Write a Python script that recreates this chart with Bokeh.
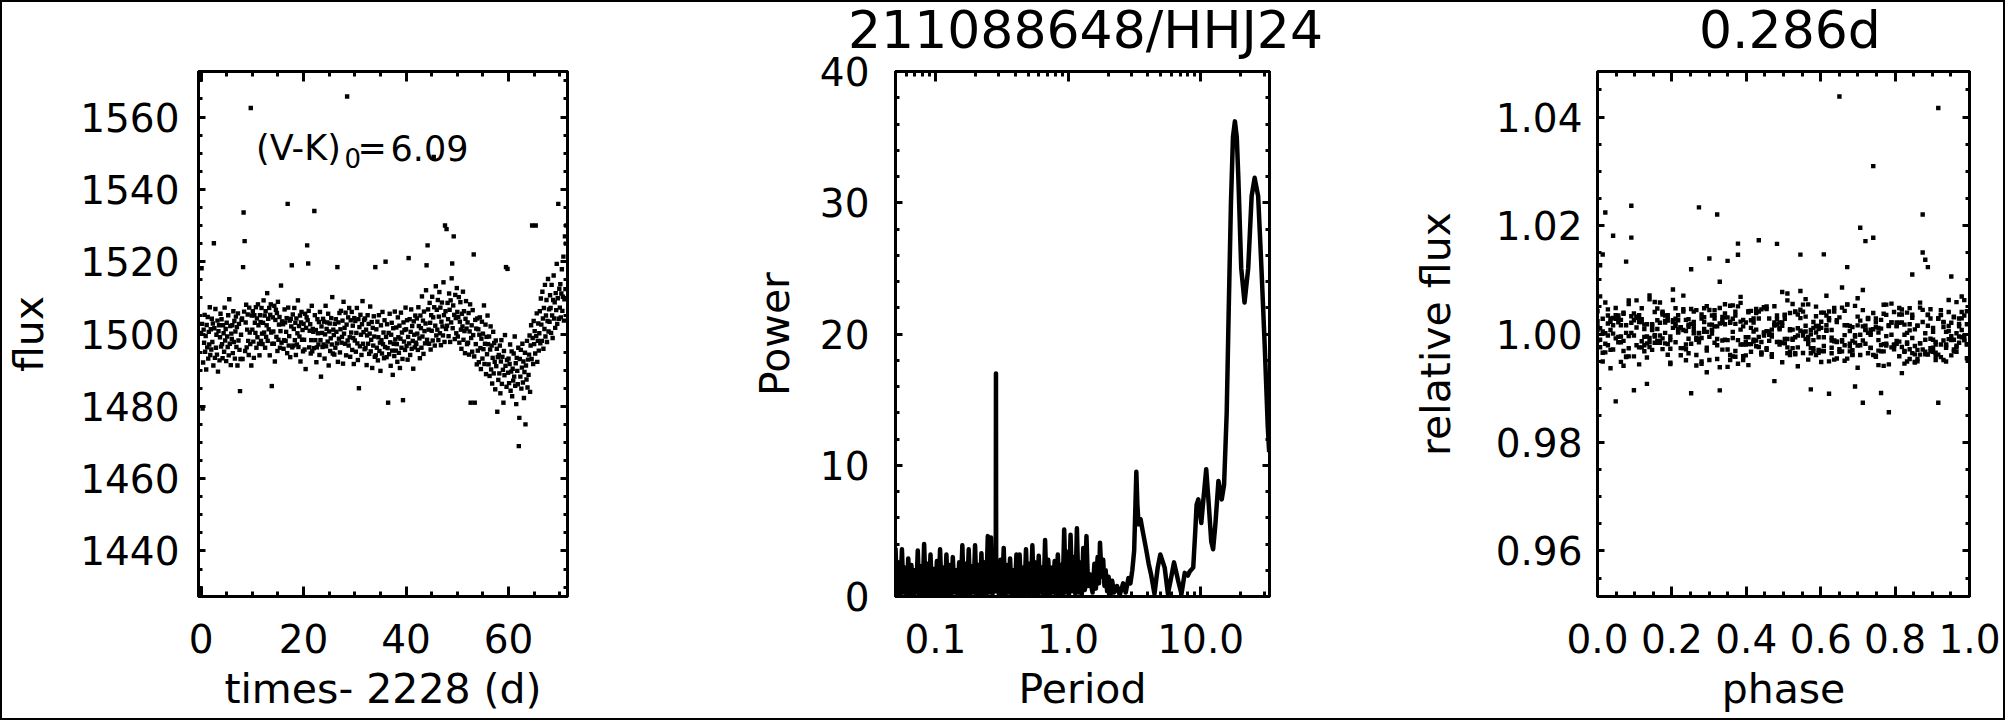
import numpy as np
from bokeh.plotting import figure
from bokeh.layouts import row, column
from bokeh.models import (Range1d, LinearAxis, LogAxis, SingleIntervalTicker, FixedTicker,
                          PrintfTickFormatter, CustomJSTickFormatter, Label, Div)
from bokeh.embed import file_html
from bokeh.resources import INLINE

FONT = "DejaVu Sans"

# ---------------- data: light curve (time - 2228 d, flux) ----------------
times = [
0.0,0.1,0.2,0.3,0.4,0.5,0.6,0.7,0.8,0.9,1.0,1.1,1.2,1.3,1.4,1.5,1.6,1.7,1.8,1.9,
2.0,2.1,2.2,2.3,2.4,2.5,2.6,2.7,2.8,2.9,3.0,3.1,3.2,3.3,3.4,3.5,3.6,3.7,3.8,3.9,
4.0,4.1,4.2,4.3,4.4,4.5,4.6,4.7,4.8,4.9,5.0,5.1,5.2,5.3,5.4,5.5,5.6,5.7,5.8,5.9,
6.0,6.1,6.2,6.3,6.4,6.5,6.6,6.7,6.8,6.9,7.0,7.1,7.2,7.3,7.4,7.5,7.6,7.7,7.8,7.9,
8.0,8.1,8.2,8.3,8.4,8.5,8.6,8.7,8.8,8.9,9.0,9.1,9.2,9.3,9.4,9.5,9.6,9.7,9.8,9.9,
10.0,10.1,10.2,10.3,10.4,10.5,10.6,10.7,10.8,10.9,11.0,11.1,11.2,11.3,11.4,11.5,11.6,11.7,11.8,11.9,
12.0,12.1,12.2,12.3,12.4,12.5,12.6,12.7,12.8,12.9,13.0,13.1,13.2,13.3,13.4,13.5,13.6,13.7,13.8,13.9,
14.0,14.1,14.2,14.3,14.4,14.5,14.6,14.7,14.8,14.9,15.0,15.1,15.2,15.3,15.4,15.5,15.6,15.7,15.8,15.9,
16.0,16.1,16.2,16.3,16.4,16.5,16.6,16.7,16.8,16.9,17.0,17.1,17.2,17.3,17.4,17.5,17.6,17.7,17.8,17.9,
18.0,18.1,18.2,18.3,18.4,18.5,18.6,18.7,18.8,18.9,19.0,19.1,19.2,19.3,19.4,19.5,19.6,19.7,19.8,19.9,
20.0,20.1,20.2,20.3,20.4,20.5,20.6,20.7,20.8,20.9,21.0,21.1,21.2,21.3,21.4,21.5,21.6,21.7,21.8,21.9,
22.0,22.1,22.2,22.3,22.4,22.5,22.6,22.7,22.8,22.9,23.0,23.1,23.2,23.3,23.4,23.5,23.6,23.7,23.8,23.9,
24.0,24.1,24.2,24.3,24.4,24.5,24.6,24.7,24.8,24.9,25.0,25.1,25.2,25.3,25.4,25.5,25.6,25.7,25.8,25.9,
26.0,26.1,26.2,26.3,26.4,26.5,26.6,26.7,26.8,26.9,27.0,27.1,27.2,27.3,27.4,27.5,27.6,27.7,27.8,27.9,
28.0,28.1,28.2,28.3,28.4,28.5,28.6,28.7,28.8,28.9,29.0,29.1,29.2,29.3,29.4,29.5,29.6,29.7,29.8,29.9,
30.0,30.1,30.2,30.3,30.4,30.5,30.6,30.7,30.8,30.9,31.0,31.1,31.2,31.3,31.4,31.5,31.6,31.7,31.8,31.9,
32.0,32.1,32.2,32.3,32.4,32.5,32.6,32.7,32.8,32.9,33.0,33.1,33.2,33.3,33.4,33.5,33.6,33.7,33.8,33.9,
34.0,34.1,34.2,34.3,34.4,34.5,34.6,34.7,34.8,34.9,35.0,35.1,35.2,35.3,35.4,35.5,35.6,35.7,35.8,35.9,
36.0,36.1,36.2,36.3,36.4,36.5,36.6,36.7,36.8,36.9,37.0,37.1,37.2,37.3,37.4,37.5,37.6,37.7,37.8,37.9,
38.0,38.1,38.2,38.3,38.4,38.5,38.6,38.7,38.8,38.9,39.0,39.1,39.2,39.3,39.4,39.5,39.6,39.7,39.8,39.9,
40.0,40.1,40.2,40.3,40.4,40.5,40.6,40.7,40.8,40.9,41.0,41.1,41.2,41.3,41.4,41.5,41.6,41.7,41.8,41.9,
42.0,42.1,42.2,42.3,42.4,42.5,42.6,42.7,42.8,42.9,43.0,43.1,43.2,43.3,43.4,43.5,43.6,43.7,43.8,43.9,
44.0,44.1,44.2,44.3,44.4,44.5,44.6,44.7,44.8,44.9,45.0,45.1,45.2,45.3,45.4,45.5,45.6,45.7,45.8,45.9,
46.0,46.1,46.2,46.3,46.4,46.5,46.6,46.7,46.8,46.9,47.0,47.1,47.2,47.3,47.4,47.5,47.6,47.7,47.8,47.9,
48.0,48.1,48.2,48.3,48.4,48.5,48.6,48.7,48.8,48.9,49.0,49.1,49.2,49.3,49.4,49.5,49.6,49.7,49.8,49.9,
50.0,50.1,50.2,50.3,50.4,50.5,50.6,50.7,50.8,50.9,51.0,51.1,51.2,51.3,51.4,51.5,51.6,51.7,51.8,51.9,
52.0,52.1,52.2,52.3,52.4,52.5,52.6,52.7,52.8,52.9,53.0,53.1,53.2,53.3,53.4,53.5,53.6,53.7,53.8,53.9,
54.0,54.1,54.2,54.3,54.4,54.5,54.6,54.7,54.8,54.9,55.0,55.1,55.2,55.3,55.4,55.5,55.6,55.7,55.8,55.9,
56.0,56.1,56.2,56.3,56.4,56.5,56.6,56.7,56.8,56.9,57.0,57.1,57.2,57.3,57.4,57.5,57.6,57.7,57.8,57.9,
58.0,58.1,58.2,58.3,58.4,58.5,58.6,58.7,58.8,58.9,59.0,59.1,59.2,59.3,59.4,59.5,59.6,59.7,59.8,59.9,
60.0,60.1,60.2,60.3,60.4,60.5,60.6,60.7,60.8,60.9,61.0,61.1,61.2,61.3,61.4,61.5,61.6,61.7,61.8,61.9,
62.0,62.1,62.2,62.3,62.4,62.5,62.6,62.7,62.8,62.9,63.0,63.1,63.2,63.3,63.4,63.5,63.6,63.7,63.8,63.9,
64.0,64.1,64.2,64.3,64.4,64.5,64.6,64.7,64.8,64.9,65.0,65.1,65.2,65.3,65.4,65.5,65.6,65.7,65.8,65.9,
66.0,66.1,66.2,66.3,66.4,66.5,66.6,66.7,66.8,66.9,67.0,67.1,67.2,67.3,67.4,67.5,67.6,67.7,67.8,67.9,
68.0,68.1,68.2,68.3,68.4,68.5,68.6,68.7,68.8,68.9,69.0,69.1,69.2,69.3,69.4,69.5,69.6,69.7,69.8,69.9,
70.0,70.1,70.2,70.3,70.4,70.5,70.6,70.7,70.8,70.9,71.0,71.1,71.2,71.3,
]

flux = [
1500.3,1518.2,1502.8,1479.4,1492.1,1501.2,1497.6,1505.3,1495.1,1499.4,1490.2,1502.5,1496.3,1504.7,1493.2,1500.6,1497.1,1507.4,1494.2,1501.3,
1495.7,1504.2,1497.8,1502.9,1491.3,1525.1,1501.6,1493.4,1506.9,1496.2,1499.8,1494.3,1503.7,1489.6,1500.8,1502.4,1492.7,1499.1,1505.6,1496.5,
1504.1,1497.2,1493.3,1502.4,1500.2,1495.1,1507.3,1498.2,1501.4,1492.5,1503.1,1499.3,1496.4,1505.2,1494.1,1509.6,1497.3,1502.2,1491.4,1500.1,
1498.6,1502.4,1494.7,1506.3,1497.8,1503.6,1493.2,1500.7,1504.8,1496.4,1501.9,1491.3,1505.7,1498.2,1502.8,1495.6,1484.2,1493.1,1499.8,1503.9,
1504.3,1493.1,1518.5,1533.6,1506.2,1525.7,1495.3,1503.2,1508.1,1496.3,1501.2,1505.4,1498.1,1494.2,1507.3,1500.4,1497.2,1562.5,1491.3,1505.1,
1501.2,1506.3,1497.9,1493.4,1505.2,1503.1,1500.3,1507.4,1496.2,1504.3,1499.1,1508.2,1502.4,1497.3,1494.1,1505.2,1503.3,1498.1,1507.2,1500.1,
1497.2,1503.1,1509.3,1500.4,1505.1,1496.2,1506.3,1499.2,1502.4,1511.3,1498.1,1504.2,1501.3,1507.2,1494.1,1505.3,1508.2,1500.4,1485.6,1497.3,
1504.6,1500.7,1497.3,1507.8,1492.4,1503.9,1506.7,1499.2,1505.8,1495.3,1508.9,1498.4,1502.6,1504.7,1496.2,1500.8,1513.4,1497.6,1503.5,1502.9,
1502.7,1495.9,1498.3,1506.8,1503.2,1498.1,1500.6,1504.4,1494.7,1536.0,1507.3,1496.8,1499.4,1503.7,1493.6,1504.2,1502.1,1519.0,1496.3,1505.4,
1496.8,1501.4,1507.2,1498.3,1503.1,1494.2,1504.3,1497.1,1500.2,1509.3,1496.4,1502.2,1499.3,1505.1,1492.4,1503.2,1506.1,1498.4,1501.1,1495.2,
1502.8,1498.4,1495.7,1505.6,1490.3,1501.7,1504.6,1524.5,1503.8,1519.5,1506.4,1496.3,1500.9,1502.7,1494.6,1498.3,1507.8,1495.2,1501.4,1500.6,
1496.1,1534.0,1505.2,1498.3,1501.1,1492.2,1496.3,1504.1,1500.2,1497.1,1503.3,1494.2,1506.1,1498.3,1488.2,1502.1,1500.3,1496.4,1504.2,1497.1,
1503.4,1493.2,1499.9,1507.8,1496.6,1501.4,1503.2,1497.9,1505.6,1491.3,1500.7,1502.9,1495.3,1498.8,1504.4,1497.1,1510.2,1494.6,1501.2,1499.7,
1494.3,1502.8,1496.2,1504.1,1500.6,1497.4,1518.5,1492.3,1503.2,1498.7,1505.8,1494.9,1501.3,1506.4,1497.6,1499.2,1503.7,1491.8,1508.9,1500.1,
1501.7,1497.3,1505.9,1494.1,1502.6,1565.7,1498.2,1504.6,1496.8,1507.2,1499.1,1493.7,1503.8,1500.4,1506.1,1495.6,1502.3,1498.9,1491.7,1504.4,
1498.2,1503.6,1495.1,1500.3,1507.2,1497.4,1492.8,1504.1,1485.0,1501.9,1496.6,1505.3,1499.8,1494.2,1502.7,1509.1,1497.3,1500.5,1503.9,1495.8,
1504.3,1496.1,1501.2,1491.4,1499.6,1505.2,1497.3,1502.8,1494.5,1500.1,1507.6,1495.2,1498.4,1503.3,1490.6,1501.7,1496.8,1504.9,1499.3,1493.7,
1518.5,1494.1,1501.3,1496.2,1503.4,1492.7,1499.1,1505.2,1495.3,1497.6,1489.8,1502.4,1498.3,1494.6,1506.1,1497.2,1500.4,1493.3,1503.8,1496.4,
1520.0,1499.2,1493.6,1502.7,1496.1,1481.0,1500.3,1494.4,1505.6,1497.7,1491.2,1499.8,1503.1,1495.4,1488.7,1501.6,1497.3,1493.9,1506.2,1498.5,
1495.4,1501.8,1497.2,1492.3,1504.6,1499.1,1494.8,1502.3,1490.6,1498.7,1505.9,1496.2,1500.4,1493.1,1481.7,1503.2,1497.9,1501.1,1495.6,1507.3,
1501.3,1496.7,1503.8,1492.9,1499.2,1521.0,1497.4,1504.1,1494.2,1500.6,1506.8,1495.9,1502.2,1498.1,1490.4,1503.5,1499.8,1496.3,1505.1,1497.6,
1497.2,1504.3,1500.1,1495.6,1507.4,1502.2,1498.8,1493.3,1505.1,1501.6,1496.2,1510.4,1499.3,1503.7,1494.5,1506.2,1500.8,1497.4,1502.9,1512.1,
1519.0,1498.4,1524.5,1506.8,1501.2,1497.3,1508.6,1503.1,1495.7,1505.2,1500.9,1510.3,1498.2,1504.6,1549.0,1507.4,1496.8,1502.3,1513.2,1499.6,
1506.7,1501.2,1509.4,1498.3,1504.8,1511.6,1500.2,1507.3,1496.9,1503.4,1508.7,1502.1,1499.6,1514.3,1505.2,1497.8,1530.0,1506.3,1501.4,1529.0,
1502.3,1508.6,1504.1,1499.4,1511.2,1506.7,1497.8,1509.3,1503.2,1515.4,1519.5,1501.6,1507.9,1527.0,1505.3,1498.6,1510.8,1504.4,1500.2,1512.7,
1506.1,1499.3,1504.7,1510.2,1497.6,1503.4,1508.8,1501.2,1495.9,1505.6,1502.1,1511.7,1498.4,1506.3,1500.8,1494.7,1504.2,1509.1,1501.5,1497.2,
1503.2,1497.6,1505.8,1494.3,1500.7,1508.2,1481.0,1498.9,1502.4,1495.1,1506.6,1499.7,1522.0,1493.8,1481.0,1503.9,1497.2,1501.5,1491.6,1504.3,
1495.4,1501.3,1492.2,1499.8,1504.6,1496.1,1490.3,1498.7,1503.4,1493.2,1500.1,1495.8,1507.9,1491.7,1497.3,1502.6,1488.9,1499.2,1494.4,1505.1,
1497.2,1491.6,1499.3,1488.4,1495.7,1502.1,1490.2,1496.8,1486.3,1493.4,1500.6,1489.1,1497.5,1492.3,1484.7,1498.2,1491.1,1495.9,1478.5,1493.6,
1487.3,1494.2,1489.1,1496.8,1483.6,1492.4,1498.3,1486.2,1493.7,1490.1,1481.0,1495.3,1488.6,1499.7,1491.2,1518.5,1485.4,1492.8,1518.0,1489.3,
1493.2,1486.4,1491.7,1497.1,1484.3,1489.6,1495.2,1482.8,1490.4,1487.1,1494.6,1488.2,1499.3,1485.7,1491.9,1480.6,1493.4,1489.8,1486.1,1496.2,
1469.0,1476.8,1493.1,1488.2,1495.6,1484.9,1490.7,1497.3,1486.6,1492.4,1482.3,1489.5,1494.8,1475.0,1491.3,1487.4,1498.1,1485.2,1492.9,1488.7,
1494.3,1499.6,1484.0,1496.8,1502.4,1493.1,1530.0,1498.9,1491.7,1503.6,1497.2,1500.8,1494.6,1530.0,1499.4,1505.7,1492.3,1498.1,1502.9,1495.4,
1500.2,1506.3,1497.4,1509.8,1502.6,1498.1,1511.7,1504.3,1495.9,1507.2,1501.4,1513.6,1499.3,1505.1,1509.4,1497.8,1503.6,1515.2,1500.7,1506.8,
1503.4,1510.7,1507.2,1500.3,1513.6,1505.1,1498.9,1509.4,1516.2,1504.3,1508.8,1501.7,1511.3,1506.6,1519.4,1502.8,1509.9,1536.0,1504.2,1512.5,
1507.3,1513.8,1504.6,1511.2,1517.9,1506.4,1510.3,1521.4,1503.7,1509.6,1527.0,1512.4,1525.0,1530.0,
]

# slow trend of the light curve, one value per 2-day bin (used to normalise the folded curve)
trend_bin_days = 2.0
trend = [1498, 1498.5, 1499, 1499.5, 1500, 1501, 1502, 1501.5, 1500.5, 1500,
         1499.5, 1499, 1499, 1499.5, 1500, 1499.5, 1499, 1498, 1497.5, 1498,
         1499, 1500.5, 1502.5, 1504, 1505, 1503.5, 1500, 1497.5, 1494, 1491.5,
         1490, 1490.5, 1497, 1503, 1506.5, 1509]

fold_period = 0.286   # days

# ---------------- data: periodogram ----------------
period = [
0.0500,0.0514,0.0528,0.0543,0.0559,0.0574,0.0590,0.0607,0.0624,0.0641,
0.0659,0.0678,0.0697,0.0716,0.0736,0.0757,0.0778,0.0800,0.0822,0.0845,
0.0869,0.0893,0.0918,0.0944,0.0970,0.0998,0.1026,0.1054,0.1084,0.1114,
0.1145,0.1177,0.1210,0.1244,0.1279,0.1315,0.1352,0.1390,0.1429,0.1469,
0.1510,0.1552,0.1595,0.1640,0.1686,0.1733,0.1782,0.1832,0.1883,0.1936,
0.1990,0.2045,0.2103,0.2162,0.2222,0.2284,0.2348,0.2414,0.2482,0.2551,
0.2623,0.2696,0.2772,0.2849,0.2860,0.2871,0.2929,0.3011,0.3096,0.3182,
0.3271,0.3363,0.3457,0.3554,0.3654,0.3756,0.3861,0.3969,0.4080,0.4195,
0.4312,0.4433,0.4557,0.4685,0.4816,0.4951,0.5090,0.5232,0.5379,0.5530,
0.5685,0.5844,0.6008,0.6176,0.6349,0.6527,0.6710,0.6898,0.7091,0.7290,
0.7494,0.7704,0.7919,0.8141,0.8369,0.8604,0.8845,0.9092,0.9347,0.9609,
0.9878,1.0154,1.0439,1.0731,1.1031,1.1340,1.1658,1.1984,1.2320,1.2665,
1.3019,1.3384,1.3759,1.4144,1.4540,
1.49,1.53,1.58,1.62,1.67,1.71,1.74,1.79,1.84,1.88,
1.92,1.97,2.02,2.09,2.15,2.22,2.34,2.45,2.60,2.72,
2.85,2.95,3.05,3.15,3.22,3.27,3.33,3.40,3.52,3.65,
3.86,4.05,4.22,4.48,4.74,4.96,5.35,5.66,6.00,6.29,
6.76,7.16,7.58,8.00,8.26,8.78,9.10,9.31,9.59,10.1,
10.5,11.0,11.5,12.0,12.4,12.9,13.6,14.4,15.0,15.7,
16.3,16.9,17.5,18.1,18.7,19.2,20.2,21.4,22.8,24.2,
25.5,27.1,28.7,30.4,32.0,32.8,
]
power = [
3.7,0.2,2.6,0.1,3.6,0.3,2.2,0.0,2.9,0.2,
2.4,0.1,2.0,0.3,3.5,0.0,2.3,0.2,4.0,0.1,
2.5,0.2,3.2,0.0,2.1,0.3,2.7,0.1,3.6,0.2,
2.2,0.0,3.2,0.2,2.4,0.1,3.0,0.3,2.0,0.1,
2.6,0.2,3.9,0.0,2.5,0.2,3.6,0.1,2.3,0.3,
3.9,0.1,2.4,0.2,3.3,0.0,2.6,0.2,4.6,0.3,
4.5,0.2,2.3,0.4,17.0,0.4,2.5,0.1,2.8,0.2,
3.7,0.0,2.4,0.3,2.9,0.1,2.0,0.2,3.2,0.1,
3.2,0.2,2.2,0.0,3.6,0.3,2.5,0.1,3.9,0.2,
2.6,0.1,3.1,0.3,2.2,0.0,4.3,0.2,2.8,0.1,
2.2,0.3,2.7,0.1,3.2,0.2,2.4,0.0,5.1,0.3,
3.4,0.1,4.7,0.4,3.0,0.2,5.2,0.3,2.6,0.1,
3.7,0.5,4.6,0.8,1.7,
0.9,0.3,2.5,0.6,3.0,1.0,4.1,1.5,2.8,0.8,
2.0,0.4,1.5,0.2,1.2,0.3,0.8,0.1,1.0,0.3,
1.4,1.0,2.0,3.5,7.0,9.5,7.0,5.5,5.9,5.0,
3.7,2.5,1.7,0.2,2.2,3.2,2.2,0.2,1.5,2.6,
1.2,0.2,1.8,1.6,1.9,2.2,5.0,7.0,7.4,5.6,
7.5,9.7,7.0,4.2,3.6,5.5,8.8,7.4,8.5,14.0,
22.4,30.0,35.0,36.2,35.0,32.0,25.0,22.4,25.0,30.5,
31.9,30.5,25.0,19.0,13.0,11.0,
]

# ---------------- texts ----------------
title_mid = "211088648/HHJ24"
title_right = "0.286d"
color_label = "(V-K)"
color_sub = "0"
color_value = "6.09"

assert len(times) == len(flux)
assert len(period) == len(power)

t_arr = np.array(times)
f_arr = np.array(flux)
bin_idx = np.minimum((t_arr / trend_bin_days).astype(int), len(trend) - 1)
rel_flux = f_arr / np.array(trend)[bin_idx]
phase = np.mod(t_arr, fold_period) / fold_period

TICK_FS = "39px"
AXIS_FS = "41px"
EDGE = 2              # page border thickness
TITLE_H = 48          # height of the strip that carries the panel titles
FIG_H = 720 - TITLE_H - EDGE
DOT = 4.4
BLANK = CustomJSTickFormatter(code="return '';")


def make_fig(width, x_range, y_range, borders, log=False):
    left, right, top, bottom = borders
    p = figure(width=width, height=FIG_H, x_range=x_range, y_range=y_range,
               x_axis_type="log" if log else "linear",
               output_backend="svg", toolbar_location=None,
               min_border_left=left, min_border_right=right,
               min_border_top=top, min_border_bottom=bottom)
    p.xgrid.visible = False
    p.ygrid.visible = False
    p.outline_line_color = "black"
    p.outline_line_width = 3
    p.background_fill_color = "white"
    p.border_fill_color = None
    return p


def style_axes(p, xticker, yticker, xfmt, yfmt, xlabel, ylabel,
               y_standoff, ylabel_standoff, log=False):
    top = (LogAxis if log else LinearAxis)(formatter=BLANK)
    right = LinearAxis(formatter=BLANK)
    p.add_layout(top, "above")
    p.add_layout(right, "right")
    bottom = p.below[0]
    left = p.left[0]
    for ax in (bottom, top):
        ax.ticker = xticker
        ax.major_tick_in = 10
        ax.minor_tick_in = 5
    for ax in (left, right):
        ax.ticker = yticker
        ax.major_tick_in = 7
        ax.minor_tick_in = 4
    for ax in (bottom, top, left, right):
        ax.major_tick_out = 0
        ax.minor_tick_out = 0
        ax.axis_line_width = 3
        ax.axis_line_color = "black"
        ax.major_tick_line_width = 3
        ax.minor_tick_line_width = 3
        ax.major_tick_line_color = "black"
        ax.minor_tick_line_color = "black"
        ax.major_label_text_color = "black"
        ax.major_label_text_font = FONT
        ax.major_label_text_font_size = TICK_FS
        ax.axis_label_text_color = "black"
        ax.axis_label_text_font = FONT
        ax.axis_label_text_font_size = AXIS_FS
        ax.axis_label_text_font_style = "normal"
    for ax in (top, right):
        ax.major_label_standoff = 0
        ax.major_label_text_font_size = "1px"
    bottom.formatter = xfmt
    left.formatter = yfmt
    bottom.major_label_standoff = 27
    bottom.axis_label = xlabel
    bottom.axis_label_standoff = 9
    left.major_label_standoff = y_standoff
    left.axis_label = ylabel
    left.axis_label_standoff = ylabel_standoff


def add_text(p, x, y, text, size, align="left"):
    p.add_layout(Label(x=x, y=y, x_units="screen", y_units="screen", text=text,
                       text_font=FONT, text_font_size=size, text_color="black",
                       text_align=align, text_baseline="alphabetic"))


def title_div(width, text, left_px, size_px, shadow):
    html = ('<div style="margin-left:%dpx; font-family:\'DejaVu Sans\'; font-size:%dpx; '
            'line-height:%dpx; color:black; white-space:nowrap;">%s</div>'
            % (left_px, size_px, round(size_px * 1.165), text))
    return Div(text=html, width=width, height=TITLE_H, margin=(0, 0, 0, 0),
               styles={"box-shadow": shadow, "overflow": "visible"})


def bar(width, height):
    return Div(text="", width=width, height=height, margin=(0, 0, 0, 0),
               styles={"background-color": "black"})


# ---------------- panel 1: light curve ----------------
p1 = make_fig(666, Range1d(-0.5, 71.5), Range1d(1427.4, 1572.6), (192, 101, 23, 122))
p1.scatter(times, flux, marker="square", size=DOT, fill_color="black", line_color=None)
style_axes(p1,
           SingleIntervalTicker(interval=20, num_minor_ticks=4),
           SingleIntervalTicker(interval=20, num_minor_ticks=4),
           PrintfTickFormatter(format="%d"), PrintfTickFormatter(format="%d"),
           "times- 2228 (d)", "flux", 19, 24)
add_text(p1, 57.5, 449, color_label, "35px")
add_text(p1, 146, 439, color_sub, "26px")
add_text(p1, 159, 449, "=", "35px")
add_text(p1, 192, 449, color_value, "35px")

# ---------------- panel 2: periodogram ----------------
p2 = make_fig(668, Range1d(0.05, 33.0), Range1d(0, 40), (227, 67, 23, 122), log=True)
p2.line(period, power, line_width=4.5, line_color="black", line_join="round")
log_minor = [0.06, 0.07, 0.08, 0.09, 0.2, 0.3, 0.4, 0.5, 0.6, 0.7, 0.8, 0.9,
             2, 3, 4, 5, 6, 7, 8, 9, 20, 30]
style_axes(p2,
           FixedTicker(ticks=[0.1, 1, 10], minor_ticks=log_minor),
           SingleIntervalTicker(interval=10, num_minor_ticks=5),
           CustomJSTickFormatter(code="return tick.toFixed(1);"),
           PrintfTickFormatter(format="%d"),
           "Period", "Power", 26, 18, log=True)

# ---------------- panel 3: folded light curve ----------------
p3 = make_fig(667, Range1d(0, 1), Range1d(0.9516, 1.0484), (261, 34, 23, 122))
p3.scatter(phase, rel_flux, marker="square", size=DOT, fill_color="black", line_color=None)
style_axes(p3,
           SingleIntervalTicker(interval=0.2, num_minor_ticks=4),
           SingleIntervalTicker(interval=0.02, num_minor_ticks=4),
           PrintfTickFormatter(format="%.1f"), PrintfTickFormatter(format="%.2f"),
           "phase", "relative flux", 15, 33)

titles = row(Div(text="", width=668, height=TITLE_H, margin=(0, 0, 0, 0),
                 styles={"box-shadow": "inset 2px 2px 0 0 black"}),
             title_div(668, title_mid, 180, 52, "inset 0 2px 0 0 black"),
             title_div(669, title_right, 363, 52, "inset -2px 2px 0 0 black"))
figs = row(bar(EDGE, FIG_H), p1, p2, p3, bar(EDGE, FIG_H))
layout = column(titles, figs, bar(2005, EDGE))

open("out.html", "w").write(file_html(layout, INLINE))
